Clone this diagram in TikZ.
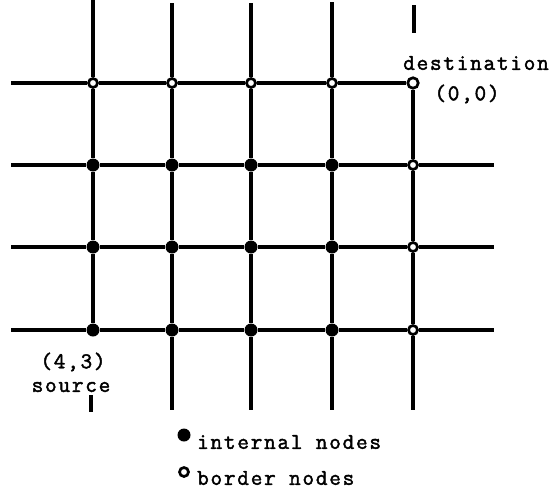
\documentclass[tikz,border=0pt]{standalone}
\usepackage{fontspec}
\setmonofont{Latin Modern Mono}[LetterSpace=8,FakeBold=2]
\begin{document}
\begin{tikzpicture}[x=1pt,y=-1pt,
  wire/.style={line width=3.2pt},
  inode/.style={circle,fill=black,inner sep=0pt,minimum size=13pt},
  bnode/.style={circle,draw=black,fill=white,line width=2.7pt,inner sep=0pt,minimum size=9pt},
  dnode/.style={bnode,minimum size=10.5pt},
  lbl/.style={font=\ttfamily\fontsize{22.5}{24}\selectfont,inner sep=0pt}]
\useasboundingbox (0,0) rectangle (551,496);
% free ends
\foreach \r/\y in {1/83,2/165,3/247,4/330}{\coordinate (L\r) at (11,\y);}
\foreach \r/\y in {2/165,3/247,4/330}{\coordinate (R\r) at (494,\y);}
\foreach \c/\x/\t in {1/93/0,2/172/3,3/251/3,4/332/2}{\coordinate (T\c) at (\x,\t);}
\foreach \c/\x in {2/172,3/251,4/332,5/413}{\coordinate (B\c) at (\x,410);}
\coordinate (s1) at (91,395); \coordinate (s2) at (91,412);
\coordinate (d1) at (414,5); \coordinate (d2) at (414,33);
% grid nodes
\foreach \c/\x in {1/93,2/172,3/251,4/332}{
  \node[bnode] (n\c1) at (\x,83) {};
  \foreach \r/\y in {2/165,3/247,4/330}{\node[inode] (n\c\r) at (\x,\y) {};}
}
\node[dnode] (n51) at (413,83) {};
\foreach \r/\y in {2/165,3/247,4/330}{\node[bnode] (n5\r) at (413,\y) {};}
% connectors
\begin{scope}[wire]
\foreach \r in {1,2,3,4}{
  \draw (L\r) -- (n1\r) -- (n2\r) -- (n3\r) -- (n4\r) -- (n5\r);
}
\foreach \r in {2,3,4}{\draw (n5\r) -- (R\r);}
\foreach \c in {1,2,3,4,5}{
  \draw (n\c1) -- (n\c2) -- (n\c3) -- (n\c4);
}
\foreach \c in {1,2,3,4}{\draw (T\c) -- (n\c1);}
\foreach \c in {2,3,4,5}{\draw (n\c4) -- (B\c);}
\draw (s1) -- (s2);
\draw[line width=4.5pt] (d1) -- (d2);
\end{scope}
% labels
\node[lbl] (dest) at (476,63) {destination};
\node[lbl] (dcoord) at (467,94) {(0,0)};
\node[lbl] (scoord) at (73,362) {(4,3)};
\node[lbl] (src) at (71,387) {source};
% legend
\node[inode] (li) at (184,435) {};
\node[bnode] (lb) at (184,472) {};
\node[lbl,anchor=west] (lit) at (197,442) {internal nodes};
\node[lbl,anchor=west] (lbt) at (197,478) {border nodes};
\end{tikzpicture}
\end{document}
